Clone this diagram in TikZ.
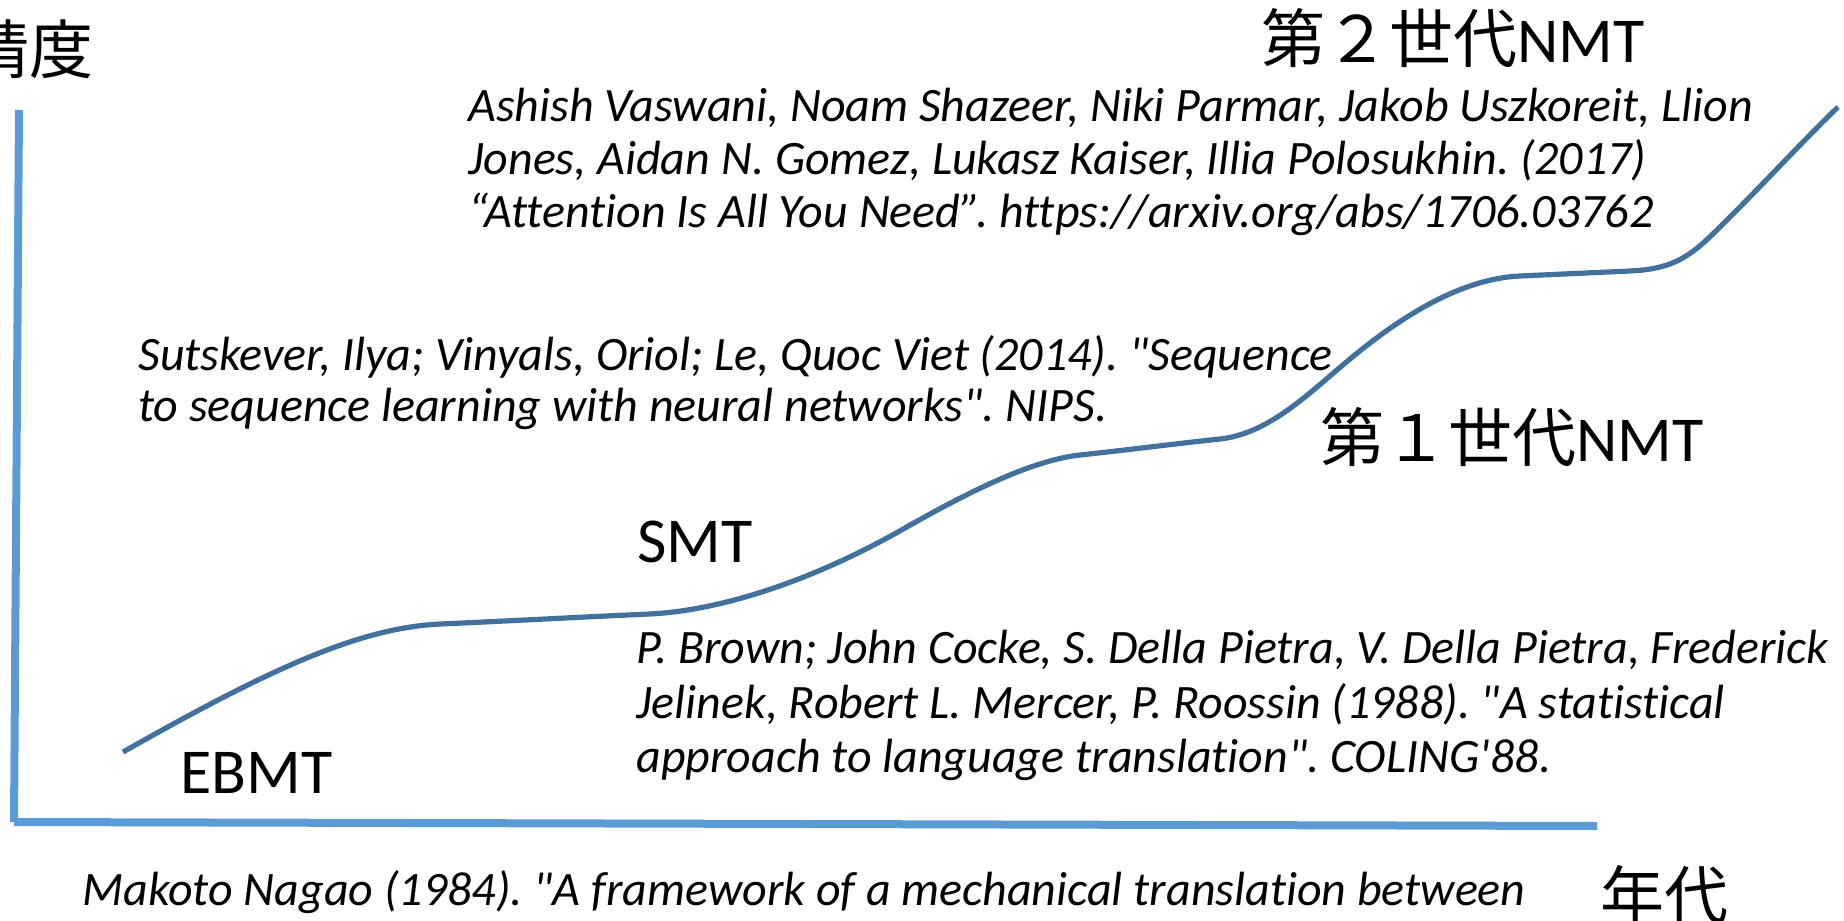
\documentclass[tikz,border=0pt]{standalone}
\usepackage{fontspec}
\setmainfont{Carlito}[Ligatures={TeXOff,CommonOff}]
\newfontfamily\cjk{Noto Sans CJK JP}
\definecolor{axisblue}{HTML}{5B9BD5}
\definecolor{curveblue}{HTML}{41719C}
\frenchspacing
\begin{document}
\begin{tikzpicture}[x=0.5pt,y=-0.5pt,
  cite/.style={anchor=base west, inner sep=0pt, font=\fontsize{24}{29}\selectfont\itshape},
  lbl/.style={anchor=base west, inner sep=0pt, font=\fontsize{32}{38}\selectfont},
  axisline/.style={draw=axisblue, line width=4pt},
  curveline/.style={draw=curveblue, line width=2.6pt}]
\useasboundingbox (0,0) rectangle (1844,921);
\clip (0,0) rectangle (1844,921);
% axes
\coordinate (ytop) at (19,110);
\coordinate (corner) at (14,822);
\coordinate (xend) at (1597,826);
\draw[axisline] (ytop) -- (corner);
\draw[axisline] (corner) -- (xend);
% curve
\draw[curveline] (123,752) .. controls (273,667) and (360,628) .. (440,624)
 .. controls (510,621) and (580,617) .. (650,614)
 .. controls (730,610) and (825,574) .. (905,528)
 .. controls (965,494) and (1030,460.5) .. (1080,455)
 .. controls (1127,450) and (1173,444) .. (1220,439)
 .. controls (1270,433.5) and (1310,392) .. (1350,359)
 .. controls (1400,317.5) and (1460,278.7) .. (1520,276)
 .. controls (1557,274.3) and (1593,272.7) .. (1630,271)
 .. controls (1680,268.75) and (1695,252) .. (1730,217)
 .. controls (1770,177) and (1798,146) .. (1838,107);
% labels
\node[lbl] (seido) at (-35,73) {\cjk 精度};
\node[lbl] (nendai) at (1600,919) {\cjk 年代};
\node[lbl] (gen2) at (1261,62) {{\cjk 第２世代}NMT};
\node[lbl] (gen1) at (1320,461) {{\cjk 第１世代}NMT};
\node[lbl] (smt) at (637,562) {SMT};
\node[lbl] (ebmt) at (180,793) {EBMT};
% citations
\node[cite] (v1) at (468,121) {Ashish Vaswani, Noam Shazeer, Niki Parmar, Jakob Uszkoreit, Llion};
\node[cite] (v2) at (468,174) {Jones, Aidan N. Gomez, Lukasz Kaiser, Illia Polosukhin. (2017)};
\node[cite] (v3) at (468,227) {“Attention Is All You Need”. https://arxiv.org/abs/1706.03762};
\node[cite] (s1) at (138,370) {Sutskever, Ilya; Vinyals, Oriol; Le, Quoc Viet (2014). "Sequence};
\node[cite] (s2) at (138,421) {to sequence learning with neural networks". NIPS.};
\node[cite] (b1) at (636,663) {P. Brown; John Cocke, S. Della Pietra, V. Della Pietra, Frederick};
\node[cite] (b2) at (636,718) {Jelinek, Robert L. Mercer, P. Roossin (1988). "A statistical};
\node[cite] (b3) at (636,772) {approach to language translation". COLING'88.};
\node[cite] (m1) at (82,905) {Makoto Nagao (1984). "A framework of a mechanical translation between};
\end{tikzpicture}
\end{document}
